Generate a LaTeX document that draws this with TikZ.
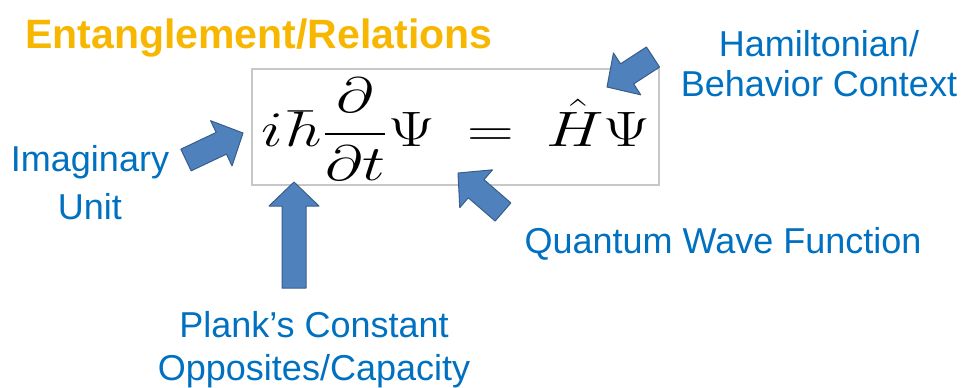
\documentclass[tikz,border=0pt]{standalone}
\usepackage{amsmath}
\usepackage{fontspec}
\usepackage{tikz}
\usetikzlibrary{calc, positioning}
\newfontfamily\lblfont{Liberation Sans}
\definecolor{cTitle}{RGB}{247,183,0}
\definecolor{cLabel}{RGB}{0,112,192}
\definecolor{cArrow}{RGB}{79,129,189}
\definecolor{cArrowEdge}{RGB}{56,93,138}
\tikzset{
	lbl/.style={text=cLabel, align=center, inner sep=0pt, font=\lblfont\fontsize{18}{22}\selectfont},
	blockarr/.style={fill=cArrow, draw=cArrowEdge, line width=0.5pt, line join=round},
	eqframe/.style={draw=black!22, line width=0.6pt, minimum width=203.5pt, minimum height=58pt, inner sep=0pt},
}
% block arrow from #1 (tail) to #2 (tip)
\newcommand{\blockarrow}[2]{%
	\coordinate (#2-hb) at ($(#2)!12pt!(#1)$);
	\filldraw[blockarr] ($(#1)!6pt!90:(#2)$) -- ($(#2-hb)!6pt!90:(#2)$) -- ($(#2-hb)!12.5pt!90:(#2)$) -- (#2)
		-- ($(#2-hb)!12.5pt!-90:(#2)$) -- ($(#2-hb)!6pt!-90:(#2)$) -- ($(#1)!6pt!-90:(#2)$) -- cycle;}

\begin{document}
\begin{tikzpicture}[x=0.5pt, y=-0.5pt]
	\useasboundingbox (0,0) rectangle (962,387);
	\node[anchor=base west, inner sep=0pt, text=cTitle, font=\lblfont\bfseries\fontsize{20.5}{24}\selectfont] (title) at (25,48) {Entanglement/Relations};
	\node[eqframe] (eqbox) at (455.5,127) {};
	\node[inner sep=0pt, font=\fontsize{29}{33}\selectfont] (eq) at (456,129) {\scalebox{1.3}[1]{$\displaystyle i\hbar\frac{\partial}{\partial t}\Psi \mkern4mu=\mkern4mu \hat{H}\Psi$}};
	% labels
	\node[lbl] (imag) at (90,183) {Imaginary\\[2pt]Unit};
	\node[lbl] (ham) at (819,64) {Hamiltonian/\\[-2pt]Behavior Context};
	\node[lbl, anchor=base] (wave) at (723,253) {Quantum Wave Function};
	\node[lbl] (plank) at (314,350) {Plank’s Constant\\[-0.5pt]Opposites/Capacity};
	% arrows
	\coordinate (imagTail) at (186,160);  \coordinate (imagTip) at (243,133);
	\coordinate (plankTail) at (294,288); \coordinate (plankTip) at (294,182);
	\coordinate (waveTail) at (503,212);  \coordinate (waveTip) at (458,173);
	\coordinate (hamTail) at (653,57);    \coordinate (hamTip) at (607,87);
	\blockarrow{imagTail}{imagTip}
	\blockarrow{plankTail}{plankTip}
	\blockarrow{waveTail}{waveTip}
	\blockarrow{hamTail}{hamTip}
\end{tikzpicture}
\end{document}
